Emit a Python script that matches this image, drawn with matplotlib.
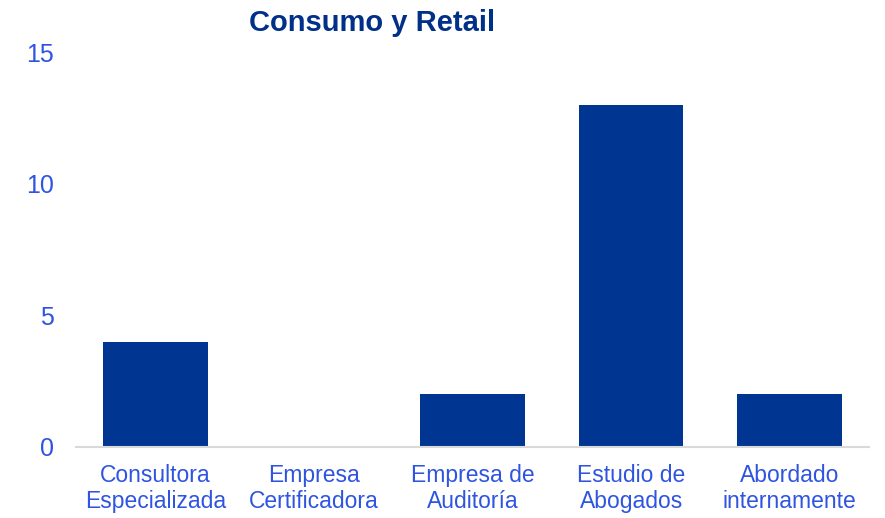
import matplotlib
matplotlib.use("Agg")
import matplotlib.pyplot as plt
import numpy as np

# data
categories = ["Consultora\nEspecializada", "Empresa\nCertificadora", "Empresa de\nAuditoría",
              "Estudio de\nAbogados", "Abordado\ninternamente"]
values = [4, 0, 2, 13, 2]
yticks = [0, 5, 10, 15]

bar_color = "#003591"
text_color = "#2E54E0"
title_color = "#003087"

plt.rcParams['font.family'] = ['Liberation Sans', 'DejaVu Sans']

fig = plt.figure(figsize=(8.85, 5.18), dpi=100)
ax = fig.add_axes([76/885, 1 - 447/518, (869 - 76)/885, (447 - 52)/518])

x = np.arange(len(categories))
ax.bar(x, values, width=0.66, color=bar_color)

ax.set_xlim(-0.5, len(categories) - 0.5)
ax.set_ylim(0, 15)
ax.set_yticks(yticks)
ax.set_yticklabels([str(t) for t in yticks])
ax.set_xticks(x)
ax.set_xticklabels(categories, linespacing=1.2)

ax.tick_params(axis='y', length=0, pad=16, labelsize=18, labelcolor=text_color)
ax.tick_params(axis='x', length=0, pad=12, labelsize=16.5, labelcolor=text_color)

for s in ['top', 'right', 'left']:
    ax.spines[s].set_visible(False)
ax.spines['bottom'].set_color('#d9d9d9')
ax.spines['bottom'].set_linewidth(1.5)

fig.text(372/885, 1 - 23/518, "Consumo y Retail", ha='center', va='center',
         fontsize=21, fontweight='bold', color=title_color)

fig.savefig("out.png", dpi=100)
